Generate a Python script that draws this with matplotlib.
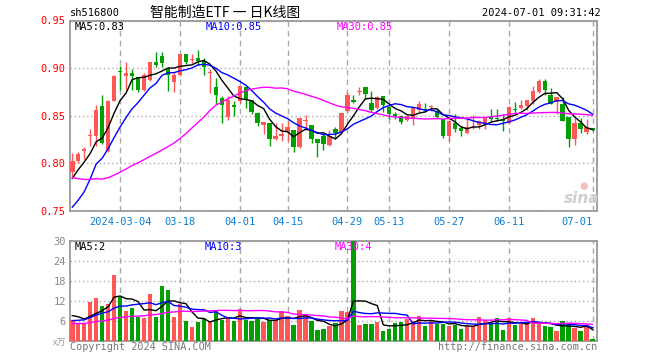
import matplotlib
matplotlib.use('Agg')
import matplotlib.pyplot as plt
import numpy as np
import pandas as pd

# ---------------- data ----------------
holidays = ['2024-04-04', '2024-04-05', '2024-05-01', '2024-05-02', '2024-05-03', '2024-06-10']
dates = [d.strftime('%m-%d') for d in pd.bdate_range('2024-02-21', '2024-07-01', freq='C', holidays=holidays)]

opens = [0.791, 0.803, 0.8135, 0.829, 0.8288, 0.8601, 0.8132, 0.866, 0.8972, 0.8913,
         0.8951, 0.8903, 0.8774, 0.8878, 0.9063, 0.9132, 0.900, 0.8851, 0.8924, 0.9149,
         0.9087, 0.9111, 0.908, 0.8944, 0.8802, 0.8688, 0.849, 0.8608, 0.8653, 0.8799,
         0.867, 0.8524, 0.840, 0.842, 0.8257, 0.8288, 0.833, 0.8347, 0.8174, 0.8448,
         0.840, 0.8253, 0.8288, 0.8191, 0.8365, 0.833, 0.8549, 0.867, 0.875, 0.8802,
         0.8635, 0.8583, 0.8712, 0.859, 0.8514, 0.8497, 0.8455, 0.8469, 0.8559, 0.8573,
         0.8594, 0.8549, 0.8462, 0.8288, 0.842, 0.8375, 0.8316, 0.8375, 0.840, 0.8427,
         0.849, 0.8476, 0.8462, 0.8427, 0.8573, 0.858, 0.860, 0.8653, 0.8747, 0.8861,
         0.8722, 0.8642, 0.8628, 0.8486, 0.8253, 0.8427, 0.833, 0.8372]
highs = [0.811, 0.812, 0.8167, 0.8358, 0.8618, 0.8722, 0.867, 0.8924, 0.9024, 0.9063,
         0.899, 0.8905, 0.8948, 0.9063, 0.9167, 0.9174, 0.901, 0.8948, 0.915, 0.915,
         0.915, 0.919, 0.9104, 0.899, 0.8896, 0.8705, 0.8705, 0.8653, 0.8826, 0.880,
         0.867, 0.8538, 0.843, 0.842, 0.842, 0.842, 0.8444, 0.835, 0.8472, 0.8503,
         0.840, 0.8253, 0.8306, 0.835, 0.8385, 0.8524, 0.8747, 0.8722, 0.8802, 0.8802,
         0.8764, 0.8705, 0.8712, 0.8608, 0.8538, 0.8503, 0.8503, 0.8583, 0.8653, 0.8635,
         0.8618, 0.8566, 0.8462, 0.8444, 0.8514, 0.8392, 0.8462, 0.8503, 0.8455, 0.849,
         0.8573, 0.8573, 0.8514, 0.860, 0.8642, 0.867, 0.867, 0.8809, 0.8885, 0.8885,
         0.8792, 0.8698, 0.8698, 0.8486, 0.8479, 0.8479, 0.8469, 0.8372]
lows = [0.787, 0.800, 0.8045, 0.8184, 0.818, 0.8201, 0.8115, 0.8653, 0.8774, 0.8774,
        0.877, 0.875, 0.8757, 0.8861, 0.9017, 0.9017, 0.8764, 0.8747, 0.8913, 0.9045,
        0.905, 0.9035, 0.893, 0.874, 0.8628, 0.8427, 0.8455, 0.8497, 0.8635, 0.8583,
        0.8514, 0.8392, 0.8306, 0.8184, 0.8247, 0.8236, 0.8236, 0.8122, 0.8163, 0.8358,
        0.8212, 0.8063, 0.8142, 0.8184, 0.8253, 0.8323, 0.8538, 0.8635, 0.8722, 0.8677,
        0.8538, 0.8566, 0.8538, 0.8469, 0.8462, 0.8417, 0.8444, 0.840, 0.8538, 0.8538,
        0.8549, 0.8476, 0.8271, 0.8236, 0.833, 0.8288, 0.8306, 0.8365, 0.8358, 0.8365,
        0.8444, 0.8444, 0.834, 0.841, 0.8524, 0.8566, 0.8559, 0.8628, 0.874, 0.8722,
        0.8628, 0.8514, 0.8444, 0.8177, 0.8191, 0.8316, 0.8306, 0.8337]
closes = [0.802, 0.810, 0.8156, 0.830, 0.8559, 0.8212, 0.866, 0.8913, 0.8955, 0.8951,
          0.8913, 0.8767, 0.8931, 0.9063, 0.9028, 0.9059, 0.8924, 0.8931, 0.9149, 0.9069,
          0.9097, 0.908, 0.901, 0.8955, 0.8715, 0.8608, 0.867, 0.8597, 0.8809, 0.867,
          0.8538, 0.8427, 0.843, 0.8253, 0.8285, 0.8306, 0.8385, 0.8167, 0.8472, 0.8458,
          0.826, 0.8219, 0.8201, 0.8288, 0.8316, 0.8524, 0.8722, 0.8642, 0.8764, 0.8733,
          0.8559, 0.8698, 0.8608, 0.8514, 0.8497, 0.8434, 0.8497, 0.8583, 0.8628, 0.8559,
          0.860, 0.849, 0.8288, 0.8444, 0.8358, 0.834, 0.8385, 0.8385, 0.8444, 0.8476,
          0.8469, 0.8462, 0.8441, 0.8594, 0.8559, 0.8615, 0.8663, 0.8764, 0.8861, 0.8767,
          0.8628, 0.8694, 0.8444, 0.8253, 0.842, 0.8365, 0.8385, 0.835]
volumes = [6.4, 5.2, 5.2, 11.6, 12.9, 10.5, 11.0, 19.7, 13.2, 8.9,
           9.9, 7.3, 6.9, 14.0, 7.2, 16.4, 15.2, 7.2, 11.2, 5.9,
           4.2, 5.7, 6.7, 5.9, 8.9, 6.2, 7.2, 5.9, 9.5, 6.2,
           5.9, 6.7, 5.7, 6.4, 6.2, 8.9, 7.4, 4.7, 9.2, 7.7,
           6.0, 3.2, 3.5, 4.5, 5.5, 8.9, 8.7, 32.0, 4.9, 5.2,
           5.2, 5.7, 3.0, 3.5, 5.5, 5.7, 6.7, 5.9, 7.5, 4.5,
           6.2, 5.2, 5.2, 4.5, 4.9, 3.5, 4.5, 4.5, 7.2, 6.2,
           5.5, 6.9, 3.2, 6.9, 4.9, 5.2, 5.2, 6.9, 5.2, 4.5,
           4.2, 2.9, 5.9, 4.9, 3.9, 2.9, 4.9, 0.5]
# sessions before the visible window (Jan 3 .. Feb 20), estimated from the MA lines' start
prior_closes = [0.845, 0.838, 0.832, 0.830, 0.835, 0.822, 0.812, 0.805, 0.792, 0.782,
                0.790, 0.795, 0.800, 0.808, 0.800, 0.790, 0.782, 0.770, 0.750, 0.735,
                0.735, 0.728, 0.695, 0.700, 0.760, 0.765, 0.775, 0.785, 0.795]
prior_volumes = [4.2, 4.5, 4.0, 3.8, 4.3, 4.6, 4.1, 3.9, 4.4, 5.0,
                 4.8, 4.5, 5.2, 5.6, 5.0, 4.7, 5.3, 5.5, 5.1, 6.5,
                 4.2, 4.0, 4.6, 5.4, 4.8, 7.0, 8.6, 7.4, 8.6]
tick_dates = ['03-04', '03-18', '04-01', '04-15', '04-29', '05-13', '05-27', '06-11', '07-01']
tick_labels = ['2024-03-04', '03-18', '04-01', '04-15', '04-29', '05-13', '05-27', '06-11', '07-01']
price_ticks = [0.75, 0.80, 0.85, 0.90, 0.95]
vol_ticks = [6, 12, 18, 24, 30]
price_ma_text = ['MA5:0.83', 'MA10:0.85', 'MA30:0.85']
vol_ma_text = ['MA5:2', 'MA10:3', 'MA30:4']
ma_windows = [5, 10, 30]
ma_colors = ['#000000', '#0000ff', '#ff00ff']

# ---------------- styling ----------------
W, H = 660, 360
RED, GREEN = '#ff5656', '#00a000'
GRID = '#aaaaaa'
MONO = 'DejaVu Sans Mono'
CJK = ['Noto Sans CJK SC', 'DejaVu Sans']

o = np.array(opens); h = np.array(highs); l = np.array(lows); c = np.array(closes)
v = np.array(volumes)
n = len(c)
x = np.arange(n)
up = c >= o
cols = np.where(up, RED, GREEN)

fig = plt.figure(figsize=(W / 100, H / 100), dpi=100)
fig.patch.set_facecolor('white')

def fx(px):
    return px / W

def fy(py):
    return 1 - py / H

L_px, R_px = 70, 597
ax = fig.add_axes([fx(L_px), fy(211), (R_px - L_px) / W, (211 - 20.5) / H])
axv = fig.add_axes([fx(L_px), fy(341), (R_px - L_px) / W, (341 - 240.7) / H])

x_left = (L_px - 72.3) / 5.98
x_right = (R_px - 72.3) / 5.98
tick_idx = [dates.index(d) for d in tick_dates]

for a in (ax, axv):
    a.set_xlim(x_left, x_right)
    a.set_axisbelow(True)
    for s in a.spines.values():
        s.set_color('#999999')
        s.set_linewidth(1.3)
    a.tick_params(length=0)
    a.set_xticks(tick_idx)
    a.xaxis.grid(True, linestyle=(0, (4, 3)), color=GRID, linewidth=1)
    a.yaxis.grid(True, linestyle=(0, (1, 2)), color=GRID, linewidth=1)

# --- price panel ---
ax.set_ylim(0.75, 0.95)
ax.set_yticks(price_ticks)
ax.set_yticklabels([f'{t:.2f}' for t in price_ticks], color='#ff0000', fontsize=7.5,
                   family=MONO)
ax.tick_params(axis='y', pad=3)
ax.set_xticklabels(tick_labels, color='#0a7fd0', fontsize=7.5, family=MONO)
ax.tick_params(axis='x', pad=4)
ax.get_xticklabels()[-1].set_horizontalalignment('right')

ax.vlines(x, l, h, colors=cols, linewidth=1, zorder=3)
body = np.maximum(np.abs(c - o), 0.0009)
ax.bar(x, body, bottom=np.minimum(o, c), width=0.74, color=cols, linewidth=0, zorder=4)

full_c = pd.Series(prior_closes + closes)
full_v = pd.Series(prior_volumes + volumes)
k = len(prior_closes)
for wdw, col in zip(ma_windows, ma_colors):
    ma = full_c.rolling(wdw).mean().values[k:]
    ax.plot(x, ma, color=col, linewidth=1, zorder=5)
    mav = full_v.rolling(wdw).mean().values[k:]
    axv.plot(x, mav, color=col, linewidth=1, zorder=5)

# --- volume panel ---
axv.set_ylim(0, 30)
axv.set_yticks(vol_ticks)
axv.set_yticklabels([str(t) for t in vol_ticks], color='#888888', fontsize=7.5, family=MONO)
axv.tick_params(axis='y', pad=3)
axv.set_xticklabels([])
axv.bar(x, v, width=0.74, color=cols, linewidth=0, zorder=3)

# --- texts ---
fig.text(fx(70), fy(13), 'sh516800', fontsize=7.5, family=MONO, va='center', ha='left')
fig.text(fx(150), fy(13), '智能制造ETF 一 日K线图', fontsize=10, family=CJK,
         va='center', ha='left')
fig.text(fx(601), fy(13), '2024-07-01 09:31:42', fontsize=7.5, family=MONO,
         va='center', ha='right')

for t, px, col in zip(price_ma_text, [75, 206, 337], ma_colors):
    fig.text(fx(px), fy(27), t, fontsize=7.5, family=MONO, color=col, va='center', ha='left')
for t, px, col in zip(vol_ma_text, [75, 205, 335], ma_colors):
    fig.text(fx(px), fy(247), t, fontsize=7.5, family=MONO, color=col, va='center', ha='left')

fig.text(fx(66), fy(343), 'x万', fontsize=6.5, family=CJK, color='#999999',
         va='center', ha='right')
fig.text(fx(70), fy(347), 'Copyright 2024 SINA.COM', fontsize=7.3, family=MONO,
         color='#777777', va='center', ha='left')
fig.text(fx(597), fy(347), 'http://finance.sina.com.cn', fontsize=7.3, family=MONO,
         color='#777777', va='center', ha='right')
fig.text(fx(582), fy(198), 'sina', fontsize=11, family='DejaVu Sans', style='italic',
         weight='bold', color='#cfcfcf', va='center', ha='center')
fig.text(fx(584), fy(186), '●', fontsize=7, family='DejaVu Sans', color='#f2c0c0',
         va='center', ha='center')

fig.savefig('out.png', dpi=100, facecolor='white')
